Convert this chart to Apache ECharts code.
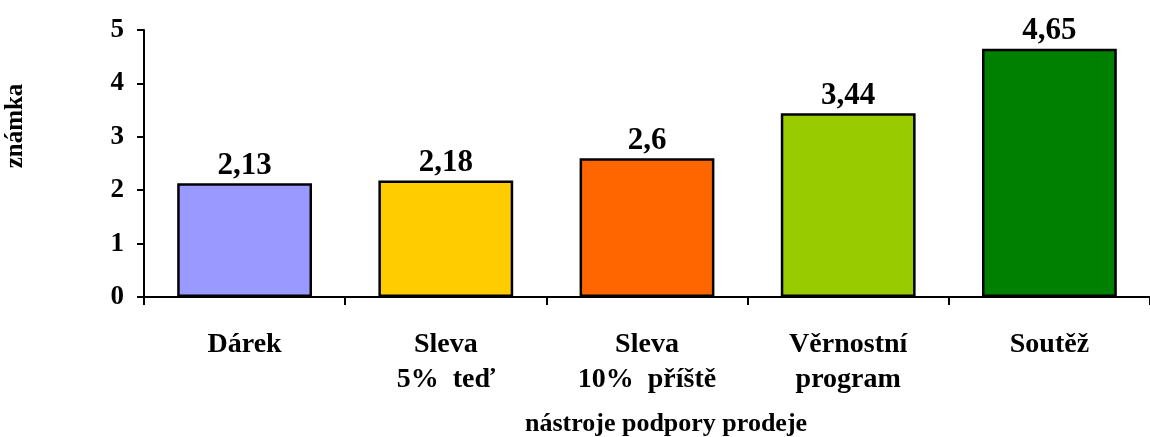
<!DOCTYPE html>
<html>
<head>
<meta charset="utf-8">
<title>Nástroje podpory prodeje</title>
<script src="https://cdn.jsdelivr.net/npm/echarts@6/dist/echarts.min.js"></script>
<style>
  html, body { margin: 0; padding: 0; background: #ffffff; }
  #chart { width: 1150px; height: 437px; }
</style>
</head>
<body>
<div id="chart"></div>
<script>
// Categories (sales promotion tools) and their average grade
const categories = ['Dárek', 'Sleva\n5%  teď', 'Sleva\n10%  příště', 'Věrnostní\nprogram', 'Soutěž'];
const values = [2.13, 2.18, 2.6, 3.44, 4.65];
const barColors = ['#9999FF', '#FFCC00', '#FF6600', '#99CC00', '#008000'];
const yTicks = [0, 1, 2, 3, 4, 5];
const xTitle = 'nástroje podpory prodeje';
const yTitle = 'známka';

const serif = '"Liberation Serif", "Times New Roman", serif';

const chart = echarts.init(document.getElementById('chart'), null, { renderer: 'canvas' });

chart.setOption({
  backgroundColor: '#ffffff',
  animation: false,
  grid: { left: 144, right: -8, top: 30, bottom: 140, containLabel: false },
  xAxis: {
    type: 'category',
    data: categories,
    boundaryGap: true,
    axisLine: { lineStyle: { color: '#000', width: 2 } },
    axisTick: { show: true, inside: false, length: 8, lineStyle: { color: '#000', width: 2 } },
    axisLabel: {
      color: '#000', fontFamily: serif, fontWeight: 'bold', fontSize: 28,
      lineHeight: 35, margin: 30, interval: 0
    }
  },
  yAxis: {
    type: 'value',
    min: yTicks[0],
    max: yTicks[yTicks.length - 1],
    interval: 1,
    splitLine: { show: false },
    axisLine: { show: true, lineStyle: { color: '#000', width: 2 } },
    axisTick: { show: true, length: 7, lineStyle: { color: '#000', width: 2 } },
    axisLabel: {
      color: '#000', fontFamily: serif, fontWeight: 'bold', fontSize: 27, margin: 20
    }
  },
  series: [{
    type: 'bar',
    data: values.map((v, i) => ({ value: v, itemStyle: { color: barColors[i] } })),
    barCategoryGap: '33%',
    itemStyle: { borderColor: '#000', borderWidth: 2.5 },
    label: {
      show: true,
      position: 'top',
      distance: 2,
      color: '#000',
      fontFamily: serif,
      fontWeight: 'bold',
      fontSize: 31,
      formatter: p => String(p.value).replace('.', ',')
    }
  }],
  graphic: [
    {
      type: 'text',
      x: 666, y: 424,
      style: {
        text: xTitle, fill: '#000',
        font: 'bold 26px ' + serif,
        align: 'center', verticalAlign: 'middle'
      }
    },
    {
      type: 'text',
      x: 16, y: 126,
      rotation: Math.PI / 2,
      style: {
        text: yTitle, fill: '#000',
        font: 'bold 25px ' + serif,
        align: 'center', verticalAlign: 'middle'
      }
    }
  ]
});
</script>
</body>
</html>
